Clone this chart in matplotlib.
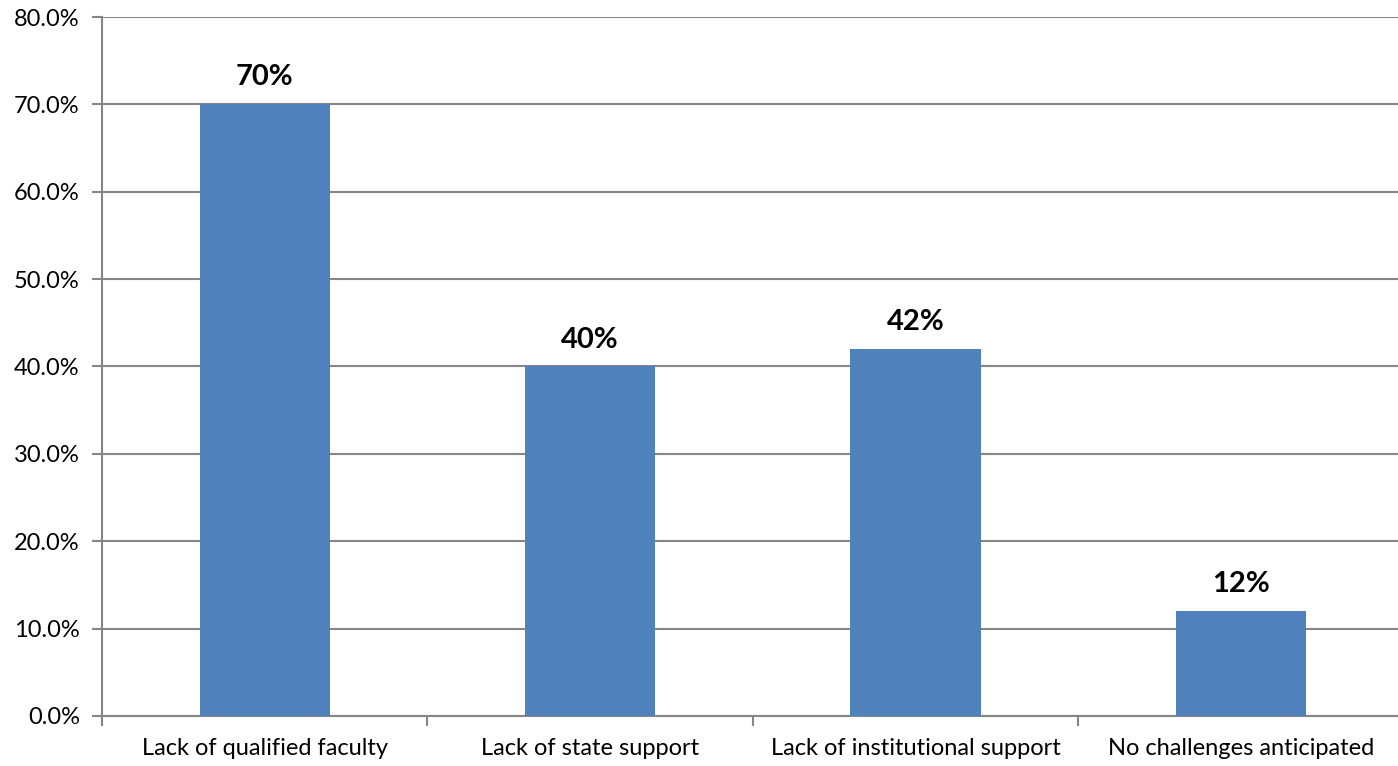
import matplotlib
matplotlib.use("Agg")
import matplotlib.pyplot as plt
from matplotlib.ticker import FuncFormatter, FixedLocator

plt.rcParams['font.family'] = ['Lato', 'DejaVu Sans']

# chart data
categories = ['Lack of qualified faculty', 'Lack of state support',
              'Lack of institutional support', 'No challenges anticipated']
values = [70, 40, 42, 12]
value_labels = ['70%', '40%', '42%', '12%']

bar_color = '#4F81BD'
grid_color = '#868686'

fig = plt.figure(figsize=(13.98, 7.66), dpi=100)
ax = fig.add_axes([0.073, 0.0653, 0.931, 0.9125])

x = list(range(len(categories)))
bars = ax.bar(x, values, width=0.4, color=bar_color, zorder=3)

for b, lab in zip(bars, value_labels):
    ax.annotate(lab, (b.get_x() + b.get_width() / 2, b.get_height()),
                xytext=(0, 10), textcoords='offset points',
                ha='center', va='bottom', fontsize=21, fontweight='bold')

ax.set_ylim(0, 80)
ax.set_xlim(-0.5, len(categories) - 0.5)
ax.set_yticks(range(0, 81, 10))
ax.yaxis.set_major_formatter(FuncFormatter(lambda v, p: f'{v:.1f}%'))
ax.yaxis.grid(True, color=grid_color, linewidth=1.5, zorder=0)

# category labels at centres, tick marks at boundaries
ax.set_xticks(x)
ax.set_xticklabels(categories, fontsize=17)
ax.tick_params(axis='x', which='major', length=0, pad=16)
ax.xaxis.set_minor_locator(FixedLocator([i + 0.5 for i in range(-1, len(categories))]))
ax.tick_params(axis='x', which='minor', length=7, width=1.5, color=grid_color)
ax.tick_params(axis='y', length=7, width=1.5, color=grid_color, labelsize=17, pad=9)

for s in ['top', 'right']:
    ax.spines[s].set_visible(False)
for s in ['left', 'bottom']:
    ax.spines[s].set_color(grid_color)
    ax.spines[s].set_linewidth(1.5)

fig.savefig('out.png', dpi=100)
